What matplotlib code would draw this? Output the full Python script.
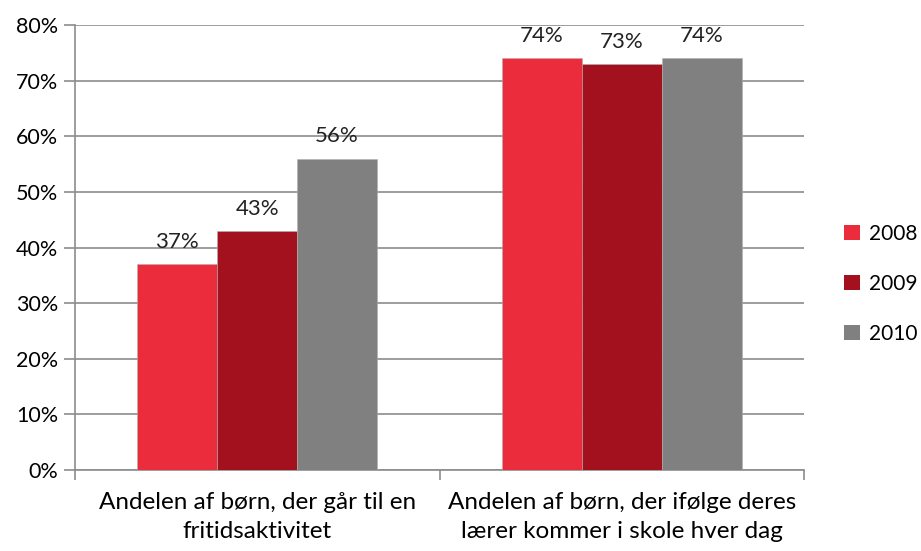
import matplotlib
matplotlib.use("Agg")
import matplotlib.pyplot as plt
import numpy as np

plt.rcParams['font.family'] = ['Lato', 'DejaVu Sans']

categories = ["Andelen af børn, der går til en\nfritidsaktivitet",
              "Andelen af børn, der ifølge deres\nlærer kommer i skole hver dag"]
years = ["2008", "2009", "2010"]
values = {
    "2008": [37, 74],
    "2009": [43, 73],
    "2010": [56, 74],
}
colors = ["#ea2c3c", "#a3111e", "#808080"]

fig = plt.figure(figsize=(9.21, 5.51), dpi=100)
ax = fig.add_axes([75/921, 81/551, 729/921, 445/551])

x = np.arange(len(categories))
w = 80/365
for i, yr in enumerate(years):
    pos = x + (i - 1) * w
    bars = ax.bar(pos, values[yr], width=w, color=colors[i], label=yr,
                  edgecolor="#b0b0b0", linewidth=0.4, zorder=3)
    for b, v in zip(bars, values[yr]):
        ax.text(b.get_x() + b.get_width()/2, v + 2.2, "%d%%" % v,
                ha="center", va="bottom", fontsize=16, color="#222222")

ax.set_xlim(-0.5, 1.5)
ax.set_ylim(0, 80)
ax.set_yticks(range(0, 81, 10))
ax.set_yticklabels(["%d%%" % t for t in range(0, 81, 10)], fontsize=15.5)
ax.yaxis.grid(True, color="#8c8c8c", linewidth=1.2, zorder=0)
ax.set_xticks(x)
ax.set_xticklabels(categories, fontsize=17.5, linespacing=1.45)
ax.set_xticks([-0.5, 0.5, 1.5], minor=True)
ax.tick_params(axis="x", which="major", length=0, pad=16)
ax.tick_params(axis="x", which="minor", length=7, color="#8c8c8c", width=1.2)
ax.tick_params(axis="y", length=8, color="#8c8c8c", width=1.2, pad=4)
for s in ["top", "right"]:
    ax.spines[s].set_visible(False)
for s in ["left", "bottom"]:
    ax.spines[s].set_color("#8c8c8c")
    ax.spines[s].set_linewidth(1.2)

leg = fig.legend(loc="center left", bbox_to_anchor=(0.896, 0.485), frameon=False,
                 fontsize=15, handlelength=0.75, handleheight=0.75,
                 handletextpad=0.45, labelspacing=1.45)
for h in leg.legend_handles:
    h.set_edgecolor("none")

fig.savefig("out.png", dpi=100)
